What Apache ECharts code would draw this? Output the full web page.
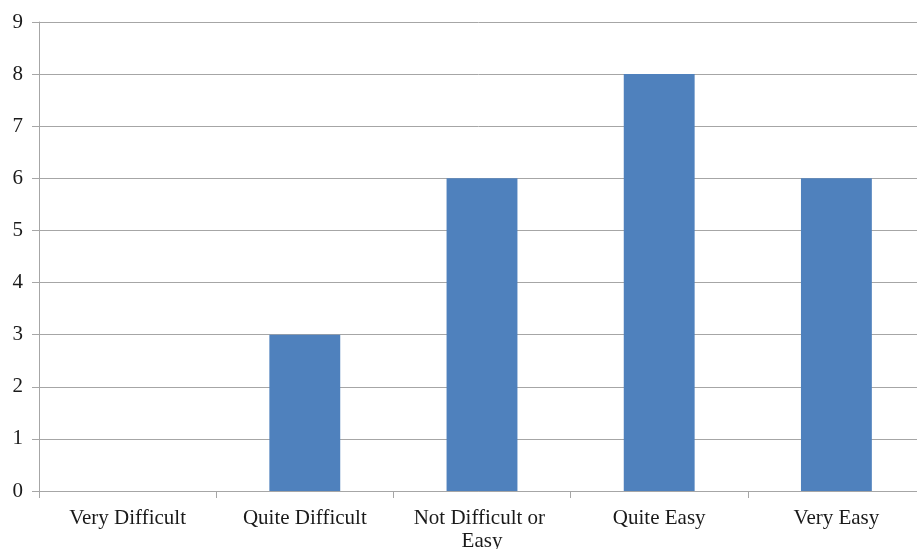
<!DOCTYPE html>
<html>
<head>
<meta charset="utf-8">
<script src="https://cdn.jsdelivr.net/npm/echarts@6/dist/echarts.min.js"></script>
<style>
  html, body { margin: 0; padding: 0; background: #fff; }
  #chart { width: 917px; height: 549px; }
</style>
</head>
<body>
<div id="chart"></div>
<script>
// Responses per difficulty rating
const categories = ['Very Difficult', 'Quite Difficult', 'Not Difficult or Easy', 'Quite Easy', 'Very Easy'];
const counts = [0, 3, 6, 8, 6];
const yMin = 0;
const yMax = 9;
const yStep = 1;

const gridGray = '#a6a6a6';
const textFont = '"Liberation Serif", "Times New Roman", serif';

const chart = echarts.init(document.getElementById('chart'), null, { renderer: 'canvas' });
chart.setOption({
  animation: false,
  backgroundColor: '#ffffff',
  // plot area runs a little past the right edge of the canvas
  grid: { left: 39, top: 22, right: -8, bottom: 58, containLabel: false, outerBoundsMode: 'none' },
  xAxis: {
    type: 'category',
    data: categories,
    boundaryGap: true,
    axisLine: { show: true, lineStyle: { color: gridGray, width: 1 } },
    axisTick: { show: true, length: 7, alignWithLabel: false, lineStyle: { color: gridGray } },
    axisLabel: {
      interval: 0,
      margin: 16,
      color: '#1a1a1a',
      fontFamily: textFont,
      fontSize: 21,
      lineHeight: 23,
      width: 168,
      overflow: 'break'
    }
  },
  yAxis: {
    type: 'value',
    min: yMin,
    max: yMax,
    interval: yStep,
    axisLine: { show: true, lineStyle: { color: gridGray, width: 1 } },
    axisTick: { show: true, length: 7, lineStyle: { color: gridGray } },
    splitLine: { show: true, lineStyle: { color: gridGray, width: 1 } },
    axisLabel: {
      margin: 16,
      color: '#1a1a1a',
      fontFamily: textFont,
      fontSize: 21
    }
  },
  series: [{
    type: 'bar',
    data: counts,
    barWidth: '40%',
    itemStyle: { color: '#4f81bd' }
  }]
});
</script>
</body>
</html>
